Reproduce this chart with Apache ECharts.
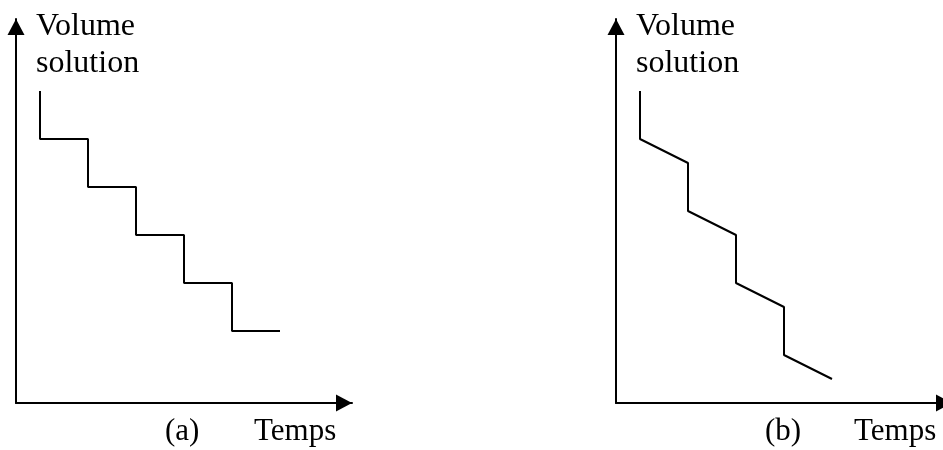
<!DOCTYPE html>
<html>
<head>
<meta charset="utf-8">
<script src="https://cdn.jsdelivr.net/npm/echarts@6/dist/echarts.min.js"></script>
<style>
html,body{margin:0;padding:0;background:#fff;}
#chart{width:943px;height:450px;}
</style>
</head>
<body>
<div id="chart"></div>
<script>
// Panel (a): instantaneous (step) decrease of solution volume over time
const timeA   = [1, 1, 3, 3, 5, 5, 7, 7, 9, 9, 11];
const volumeA = [13, 11, 11, 9, 9, 7, 7, 5, 5, 3, 3];
// Panel (b): steps with a slow decrease between drops
const timeB   = [1, 1, 3, 3, 5, 5, 7, 7, 9];
const volumeB = [13, 11, 10, 8, 7, 5, 4, 2, 1];

const yAxisLabelLines = ['Volume', 'solution'];
const xAxisLabel = 'Temps';
const panelLabels = ['(a)', '(b)'];

const FONT = '"Liberation Serif", "Times New Roman", serif';

const chart = echarts.init(document.getElementById('chart'), null, {renderer: 'canvas'});

function pairs(xs, ys) { return xs.map((x, i) => [x, ys[i]]); }

function axisCommon(max) {
  return {
    type: 'value', min: 0, max: max,
    axisLine: {show: true, onZero: false, lineStyle: {color: '#000', width: 2},
      symbol: ['none', 'triangle'], symbolSize: [17, 16], symbolOffset: [0, -8]},
    axisTick: {show: false}, axisLabel: {show: false}, splitLine: {show: false}
  };
}

const grids = [
  {left: 16, top: 19, width: 336, height: 384, outerBoundsMode: 'none', containLabel: false},
  {left: 616, top: 19, width: 336, height: 384, outerBoundsMode: 'none', containLabel: false}
];

const graphics = [];
grids.forEach((g, i) => {
  graphics.push({type: 'text', x: g.left + 20, y: 26.5,
    style: {text: yAxisLabelLines[0], fill: '#000', font: '32px ' + FONT, textVerticalAlign: 'middle'}});
  graphics.push({type: 'text', x: g.left + 20, y: 64,
    style: {text: yAxisLabelLines[1], fill: '#000', font: '32px ' + FONT, textVerticalAlign: 'middle'}});
  graphics.push({type: 'text', x: g.left + 149, y: 432,
    style: {text: panelLabels[i], fill: '#000', font: '31px ' + FONT, textVerticalAlign: 'middle'}});
  graphics.push({type: 'text', x: g.left + 238, y: 432,
    style: {text: xAxisLabel, fill: '#000', font: '31px ' + FONT, textVerticalAlign: 'middle'}});
});

chart.setOption({
  animation: false,
  backgroundColor: '#fff',
  grid: grids,
  xAxis: [Object.assign({gridIndex: 0}, axisCommon(14)), Object.assign({gridIndex: 1}, axisCommon(14))],
  yAxis: [Object.assign({gridIndex: 0}, axisCommon(16)), Object.assign({gridIndex: 1}, axisCommon(16))],
  series: [
    {type: 'line', xAxisIndex: 0, yAxisIndex: 0, data: pairs(timeA, volumeA),
     showSymbol: false, symbol: 'none', lineStyle: {color: '#000', width: 2}},
    {type: 'line', xAxisIndex: 1, yAxisIndex: 1, data: pairs(timeB, volumeB),
     showSymbol: false, symbol: 'none', lineStyle: {color: '#000', width: 2}}
  ],
  graphic: graphics
});
</script>
</body>
</html>
